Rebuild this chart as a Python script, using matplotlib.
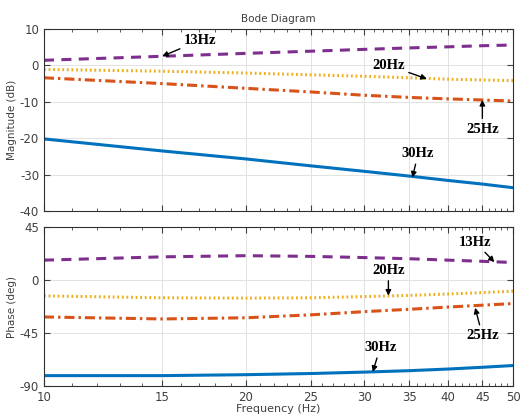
import numpy as np
import matplotlib
matplotlib.use("Agg")
import matplotlib.pyplot as plt
from matplotlib.ticker import FixedLocator, NullFormatter

plt.rcParams["axes.unicode_minus"] = False

freq = [10, 15, 20, 25, 30, 35, 40, 45, 50]
series_names = ["13Hz", "20Hz", "25Hz", "30Hz"]

mag_13 = [1.4, 2.5, 3.3, 3.9, 4.4, 4.8, 5.1, 5.4, 5.6]
mag_20 = [-1.1, -1.6, -2.1, -2.6, -3.0, -3.4, -3.8, -4.0, -4.2]
mag_25 = [-3.4, -5.0, -6.3, -7.3, -8.2, -8.8, -9.2, -9.5, -9.8]
mag_30 = [-20.2, -23.5, -25.7, -27.6, -29.1, -30.4, -31.6, -32.6, -33.6]

ph_13 = [17.0, 19.8, 20.8, 20.2, 19.2, 18.2, 17.0, 16.0, 15.0]
ph_20 = [-13.4, -15.0, -15.3, -15.0, -14.0, -13.0, -11.8, -10.6, -9.4]
ph_25 = [-31.3, -33.0, -32.0, -29.5, -26.8, -24.8, -22.9, -21.3, -19.9]
ph_30 = [-81.2, -81.2, -80.4, -79.4, -78.2, -77.0, -75.6, -74.1, -72.6]

x_ticks = [10, 15, 20, 25, 30, 35, 40, 45, 50]
mag_ticks = [10, 0, -10, -20, -30, -40]
ph_ticks = [45, 0, -45, -90]

# annotation (text position, arrow tip) in data coords
mag_ann = {
    "13Hz": ((17.1, 6.9), (15.0, 2.5)),
    "20Hz": ((32.6, 0.0), (37.2, -3.7)),
    "25Hz": ((45.0, -17.5), (45.0, -9.5)),
    "30Hz": ((36.1, -24.2), (35.4, -30.8)),
}
ph_ann = {
    "13Hz": ((43.9, 32.4), (46.9, 15.3)),
    "20Hz": ((32.6, 8.5), (32.6, -13.2)),
    "25Hz": ((45.0, -47.0), (43.9, -23.5)),
    "30Hz": ((31.7, -57.2), (30.9, -78.0)),
}

colors = {"13Hz": "#7E2F8E", "20Hz": "#EDB120", "25Hz": "#D95319", "30Hz": "#0072BD"}
styles = {"13Hz": (0, (3.3, 2.4)), "20Hz": (0, (0.6, 0.9)),
          "25Hz": (0, (3.3, 1.3, 0.8, 1.3)), "30Hz": "-"}

fig = plt.figure(figsize=(5.23, 4.2), dpi=100)
ax1 = fig.add_axes([0.084, 0.4976, 0.897, 0.4334])
ax2 = fig.add_axes([0.084, 0.081, 0.897, 0.378])

tick_color = "#404040"

def style_axis(ax, yticks, ylim):
    ax.set_xscale("log")
    ax.set_xlim(10, 50)
    ax.set_ylim(*ylim)
    ax.xaxis.set_major_locator(FixedLocator(x_ticks))
    ax.xaxis.set_minor_locator(FixedLocator([f for f in range(11, 50) if f not in x_ticks]))
    ax.xaxis.set_minor_formatter(NullFormatter())
    ax.set_yticks(yticks)
    ax.grid(True, which="major", color="#e2e2e2", lw=0.7)
    ax.tick_params(which="both", direction="in", top=True, right=True,
                   colors=tick_color, labelsize=8.5)
    ax.tick_params(which="major", length=4)
    ax.tick_params(which="minor", length=2.5)
    for s in ax.spines.values():
        s.set_color("#303030")
        s.set_linewidth(0.8)

mags = {"13Hz": mag_13, "20Hz": mag_20, "25Hz": mag_25, "30Hz": mag_30}
phs = {"13Hz": ph_13, "20Hz": ph_20, "25Hz": ph_25, "30Hz": ph_30}

for name in series_names:
    ax1.plot(freq, mags[name], color=colors[name], ls=styles[name], lw=2.2)
    ax2.plot(freq, phs[name], color=colors[name], ls=styles[name], lw=2.2)

style_axis(ax1, mag_ticks, (-40, 10))
style_axis(ax2, ph_ticks, (-90, 45))
ax1.xaxis.set_major_formatter(NullFormatter())
ax2.set_xticklabels([str(v) for v in x_ticks])

ax1.set_ylabel("Magnitude (dB)", fontsize=7.5, color=tick_color, labelpad=2)
ax2.set_ylabel("Phase (deg)", fontsize=7.5, color=tick_color, labelpad=2)
ax2.set_xlabel("Frequency (Hz)", fontsize=8, color=tick_color, labelpad=0)
ax1.set_title("Bode Diagram", fontsize=7.5, color=tick_color, pad=5)

ann_font = dict(family="Liberation Serif", fontweight="bold", fontsize=10.5)
arrow = dict(arrowstyle="-|>", color="black", lw=1.0, mutation_scale=8,
             shrinkA=1, shrinkB=0)
for ax, ann in ((ax1, mag_ann), (ax2, ph_ann)):
    for name, (txt, tip) in ann.items():
        ax.annotate(name, xy=tip, xytext=txt, ha="center", va="center",
                    arrowprops=arrow, **ann_font)

fig.savefig("out.png", dpi=100)
